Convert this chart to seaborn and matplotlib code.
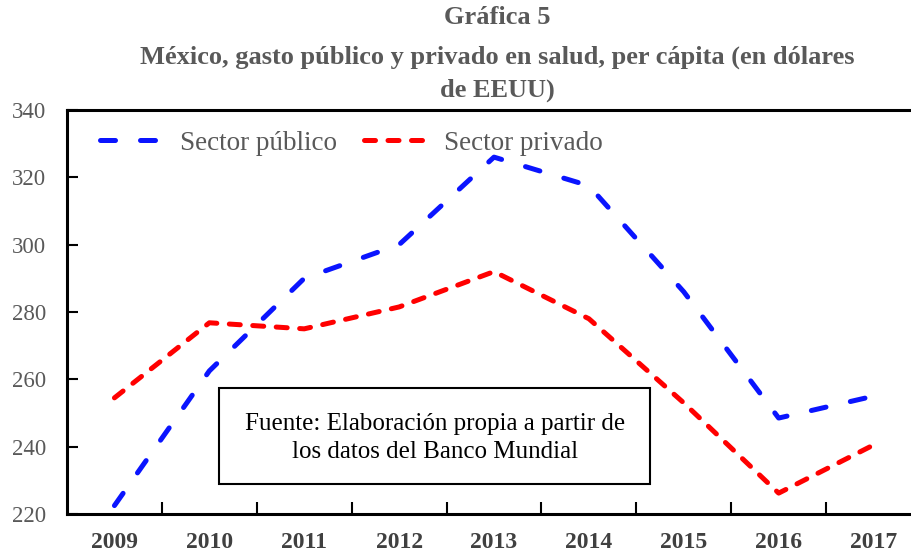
import matplotlib
matplotlib.use("Agg")
import matplotlib.pyplot as plt
import seaborn as sns
import pandas as pd
from matplotlib.patches import Rectangle

years = ["2009", "2010", "2011", "2012", "2013", "2014", "2015", "2016", "2017"]
publico = [222.5, 262.5, 290.0, 300.0, 326.0, 317.5, 286.0, 248.5, 255.0]
privado = [254.5, 276.8, 275.0, 281.5, 292.0, 278.0, 253.0, 226.2, 240.5]
series_names = ["Sector público", "Sector privado"]
yticks = [220, 240, 260, 280, 300, 320, 340]
title_lines = ["Gráfica 5",
               "México, gasto público y privado en salud, per cápita (en dólares",
               "de EEUU)"]
note = "Fuente: Elaboración propia a partir de\nlos datos del Banco Mundial"

sns.set_theme(style="white")
plt.rcParams["font.family"] = ["Liberation Serif", "DejaVu Serif"]

df = pd.DataFrame({
    "year": years * 2,
    "value": publico + privado,
    "serie": [series_names[0]] * len(years) + [series_names[1]] * len(years),
})
df["x"] = list(range(len(years))) * 2

fig = plt.figure(figsize=(9.12, 5.54), dpi=100)
W, H = 912, 554
ax = fig.add_axes([67 / W, 40 / H, (921 - 67) / W, (514 - 110) / H])

sns.lineplot(data=df, x="x", y="value", hue="serie", style="serie",
             palette={series_names[0]: "#0a14ff", series_names[1]: "#ff0000"},
             dashes={series_names[0]: (3.0, 5.0), series_names[1]: (2.2, 2.5)},
             linewidth=3.6, ax=ax, legend=True)
for ln in ax.lines:
    ln.set_dash_capstyle("round")
    ln.set_solid_capstyle("round")

ax.set_xlim(-0.5, len(years) - 0.5)
ax.set_ylim(220, 340)
ax.set_xticks(range(len(years)))
ax.set_xticklabels(years, fontweight="bold", fontsize=17, color="#404040")
ax.set_xticks([i + 0.5 for i in range(len(years) - 1)], minor=True)
ax.set_yticks(yticks)
ax.set_yticklabels([str(v) for v in yticks], fontsize=16.5, color="#595959")
ax.tick_params(axis="x", which="major", length=0, pad=13)
ax.tick_params(axis="x", which="minor", direction="in", length=9, width=1.5, color="black", bottom=True)
ax.tick_params(axis="y", which="major", direction="in", length=8, width=1.5, color="black", pad=15, left=True)
ax.set_xlabel("")
ax.set_ylabel("")
for side in ["left", "bottom", "top"]:
    ax.spines[side].set_visible(True)
    ax.spines[side].set_color("black")
    ax.spines[side].set_linewidth(2.2)
ax.spines["right"].set_visible(False)
ax.grid(False)

handles, labels = ax.get_legend_handles_labels()
leg = ax.legend(handles, labels, loc="upper left", bbox_to_anchor=(0.026, 0.976), ncol=2,
                frameon=False, fontsize=19.5, handlelength=2.4, columnspacing=1.0,
                handletextpad=0.55, borderaxespad=0, labelcolor="#595959")
for h in leg.get_lines():
    h.set_linewidth(3.6)
    h.set_dash_capstyle("round")

ys = [18, 57, 90]
for t, y in zip(title_lines, ys):
    fig.text(497 / W, 1 - y / H, t, ha="center", va="center", fontsize=19,
             fontweight="bold", color="#595959")

fig.patches.append(Rectangle((219 / W, 1 - 484 / H), (650 - 219) / W, (484 - 388) / H,
                             transform=fig.transFigure, fill=True, facecolor="white",
                             edgecolor="black", linewidth=1.5, zorder=5))
fig.text(435 / W, 1 - 438 / H, note, ha="center", va="center", fontsize=18,
         color="black", linespacing=1.3, zorder=6)

fig.savefig("out.png", dpi=100)
